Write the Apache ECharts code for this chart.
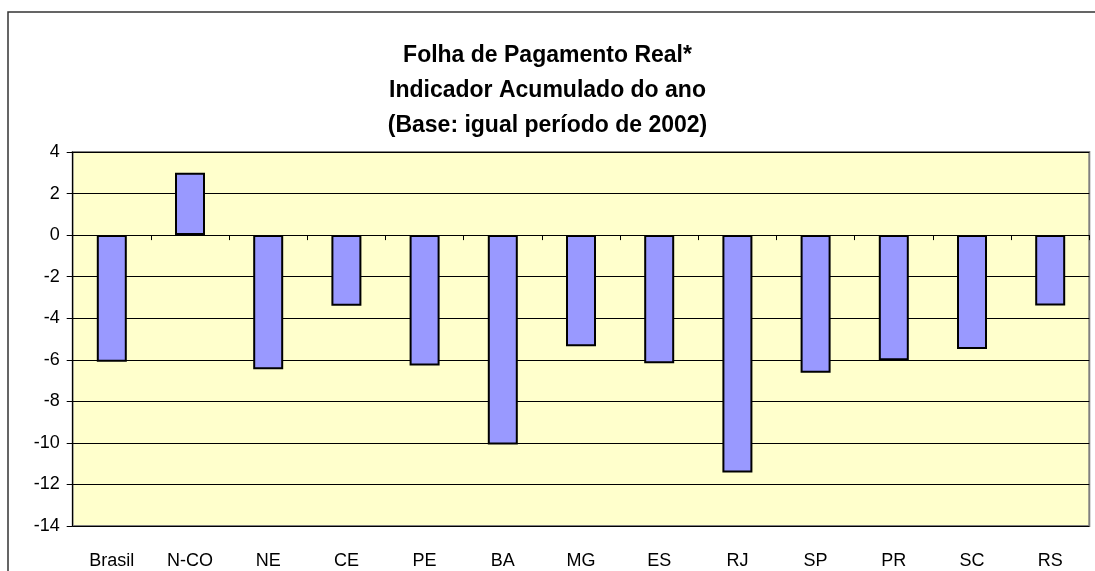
<!DOCTYPE html>
<html>
<head>
<meta charset="utf-8">
<script src="https://cdn.jsdelivr.net/npm/echarts@6/dist/echarts.min.js"></script>
<style>
  html, body { margin: 0; padding: 0; background: #fff; }
  #chart { width: 1095px; height: 571px; }
</style>
</head>
<body>
<div id="chart"></div>
<script>
// regiões e valores
const regioes = ['Brasil', 'N-CO', 'NE', 'CE', 'PE', 'BA', 'MG', 'ES', 'RJ', 'SP', 'PR', 'SC', 'RS'];
const folhaReal = [-6.1, 3.0, -6.45, -3.4, -6.27, -10.08, -5.35, -6.17, -11.42, -6.63, -6.02, -5.48, -3.39];
const tituloLinhas = ['Folha de Pagamento Real*', 'Indicador Acumulado do ano', '(Base: igual período de 2002)'];

const fonte = '"Liberation Sans", Arial, sans-serif';

let chart = echarts.init(document.getElementById('chart'));

let option = {
  backgroundColor: '#fff',
  animation: false,
  // moldura externa
  graphic: [{
    type: 'rect',
    shape: { x: 8, y: 12, width: 1100, height: 600 },
    style: { fill: 'none', stroke: '#333', lineWidth: 1.5 },
    silent: true
  }],
  title: {
    text: tituloLinhas.join('\n'),
    left: 'center',
    top: 38,
    padding: 0,
    textStyle: {
      fontFamily: fonte,
      fontSize: 23,
      fontWeight: 'bold',
      color: '#000',
      lineHeight: 35
    }
  },
  grid: {
    left: 72.7,
    right: 5.7,
    top: 152,
    bottom: 45,
    show: true,
    backgroundColor: '#FFFFCC',
    borderColor: '#808080',
    borderWidth: 2
  },
  xAxis: [
    {
      // eixo no zero, só linha e marcas
      type: 'category',
      data: regioes,
      axisLine: { onZero: true, lineStyle: { color: '#000', width: 1 } },
      axisTick: { show: true, length: 5, lineStyle: { color: '#000' } },
      axisLabel: { show: false },
      splitLine: { show: false }
    },
    {
      // rótulos embaixo
      type: 'category',
      data: regioes,
      position: 'bottom',
      axisLine: { show: false },
      axisTick: { show: false },
      axisLabel: { fontFamily: fonte, fontSize: 18, color: '#000', margin: 26 }
    }
  ],
  yAxis: {
    type: 'value',
    min: -14,
    max: 4,
    interval: 2,
    axisLine: { show: true, lineStyle: { color: '#000', width: 1 } },
    axisTick: { show: true, length: 6, lineStyle: { color: '#000' } },
    axisLabel: { fontFamily: fonte, fontSize: 18, color: '#000', margin: 13 },
    splitLine: { show: true, lineStyle: { color: '#000', width: 1 } }
  },
  series: [{
    type: 'bar',
    xAxisIndex: 0,
    data: folhaReal,
    barWidth: 30,
    itemStyle: { color: '#9999FF', borderColor: '#000', borderWidth: 2 }
  }]
};

chart.setOption(option);
</script>
</body>
</html>
